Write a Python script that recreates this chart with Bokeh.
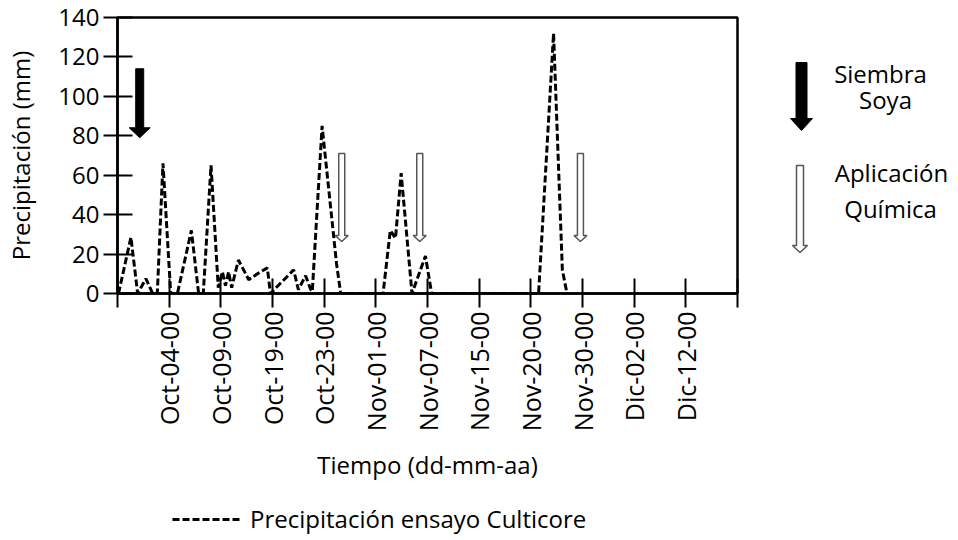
import math
from bokeh.plotting import figure
from bokeh.models import Range1d, FixedTicker, Legend, LegendItem
from bokeh.core.properties import value
from bokeh.layouts import row, column
from bokeh.embed import file_html
from bokeh.resources import INLINE

# ---------------- data ----------------
dias = [0.2, 2.6, 3.9, 5.5, 6.8, 7.7, 8.8, 10.3, 11.6, 14.3, 15.7, 16.6, 18.1, 19.5,
        20.3, 20.9, 21.5, 22.1, 23.4, 25.4, 27.1, 29.0, 29.6, 34.1, 35.0, 36.4, 37.4,
        37.7, 39.6, 42.4, 43.2, 51.4, 52.8, 53.8, 54.9, 57.0, 59.6, 60.8, 81.5, 84.4,
        86.1, 87.0]
precip = [0, 28.5, 0, 7.5, 0, 0, 66, 0, 0, 32, 0, 0, 65, 3,
          11, 4, 11, 3, 17, 7, 10, 13, 0, 12, 2, 9, 2,
          1, 85, 15, 0, 0, 32, 28, 61, 0, 19, 0, 0, 132,
          12, 0]

tick_pos = [0, 10, 20, 30, 40, 50, 60, 70, 80, 90, 100, 110, 120]
tick_labels = ["", "Oct-04-00", "Oct-09-00", "Oct-19-00", "Oct-23-00", "Nov-01-00",
               "Nov-07-00", "Nov-15-00", "Nov-20-00", "Nov-30-00", "Dic-02-00",
               "Dic-12-00", ""]
y_ticks = [0, 20, 40, 60, 80, 100, 120, 140]

siembra_x = [4.3]
siembra_top = [114]
siembra_tip = [79]

aplic_x = [43.4, 58.5, 89.6]
aplic_top = [71, 71, 71]
aplic_tip = [26.4, 26.4, 26.4]

serie_label = "Precipitación ensayo Culticore"
side_lines = ["Siembra", "Soya", "Aplicación", "Química"]

FONT = "Open Sans"
FS = "24px"

# ---------------- main figure ----------------
W_LEFT, W_RIGHT, W_TOP, W_BOTTOM = 117, 5, 17, 210
FRAME_W, FRAME_H = 620, 276
MAIN_W = W_LEFT + FRAME_W + W_RIGHT
MAIN_H = W_TOP + FRAME_H + W_BOTTOM
X0, X1, Y0, Y1 = 0, 120, 0, 140

p = figure(width=MAIN_W, height=MAIN_H,
           output_backend="svg", toolbar_location=None,
           x_range=Range1d(X0, X1), y_range=Range1d(Y0, Y1),
           min_border_left=W_LEFT, min_border_right=W_RIGHT,
           min_border_top=W_TOP, min_border_bottom=W_BOTTOM)
p.xgrid.visible = False
p.ygrid.visible = False
p.outline_line_color = "black"
p.outline_line_width = 2.5

px_x = FRAME_W / (X1 - X0)
px_y = FRAME_H / (Y1 - Y0)


def arrow_poly(xc, ytop, ytip, shaft_hw, head_hw, head_len):
    sx = shaft_hw / px_x
    hx = head_hw / px_x
    yh = ytip + head_len / px_y
    xs = [xc - sx, xc + sx, xc + sx, xc + hx, xc, xc - hx, xc - sx]
    ys = [ytop, ytop, yh, yh, ytip, yh, yh]
    return xs, ys


sx_list, sy_list = [], []
for xc, yt, ytip in zip(siembra_x, siembra_top, siembra_tip):
    xs, ys = arrow_poly(xc, yt, ytip, 4, 10.5, 10)
    sx_list.append(xs); sy_list.append(ys)
p.patches(sx_list, sy_list, fill_color="black", line_color="black", line_width=1)

ax_list, ay_list = [], []
for xc, yt, ytip in zip(aplic_x, aplic_top, aplic_tip):
    xs, ys = arrow_poly(xc, yt, ytip, 3, 6.5, 6)
    ax_list.append(xs); ay_list.append(ys)
p.patches(ax_list, ay_list, fill_color="white", line_color="#555555", line_width=1.5)

LINE_STYLE = dict(line_color="black", line_width=3, line_dash="7 3")
p.line(dias, precip, **LINE_STYLE)

# axes
p.xaxis.ticker = FixedTicker(ticks=tick_pos)
p.xaxis.major_label_overrides = {t: l for t, l in zip(tick_pos, tick_labels)}
p.xaxis.major_label_orientation = math.pi / 2
p.xaxis.axis_label = "Tiempo (dd-mm-aa)"
p.yaxis.ticker = FixedTicker(ticks=y_ticks)
p.yaxis.axis_label = "Precipitación (mm)"
for ax in (p.xaxis[0], p.yaxis[0]):
    ax.axis_line_color = "black"
    ax.axis_line_width = 2.5
    ax.major_tick_line_color = "black"
    ax.major_tick_line_width = 2
    ax.major_tick_in = 15
    ax.major_tick_out = 14
    ax.minor_tick_line_color = None
    ax.major_label_text_font = FONT
    ax.major_label_text_font_size = FS
    ax.major_label_text_color = "black"
    ax.axis_label_text_font = FONT
    ax.axis_label_text_font_size = FS
    ax.axis_label_text_font_style = "normal"
    ax.axis_label_text_color = "black"
    ax.major_label_standoff = 4
p.xaxis.major_label_text_font_size = "25px"
p.yaxis.axis_label_standoff = 18
p.xaxis.axis_label_standoff = 14

# ---------------- side legend (arrows) ----------------
# the side figure's frame is aligned with the main frame (page y 17..293)
SIDE_W = 210
side = figure(width=SIDE_W, height=MAIN_H, output_backend="svg",
              toolbar_location=None,
              x_range=Range1d(MAIN_W, MAIN_W + SIDE_W),
              y_range=Range1d(W_TOP + FRAME_H, W_TOP),
              min_border_left=0, min_border_right=0,
              min_border_top=W_TOP, min_border_bottom=W_BOTTOM,
              x_axis_location=None, y_axis_location=None)
side.xgrid.visible = False
side.ygrid.visible = False
side.outline_line_color = None


def arrow_px(xc, ytop, ytip, shaft_hw, head_hw, head_len):
    yh = ytip - head_len
    xs = [xc - shaft_hw, xc + shaft_hw, xc + shaft_hw, xc + head_hw, xc, xc - head_hw, xc - shaft_hw]
    ys = [ytop, ytop, yh, yh, ytip, yh, yh]
    return xs, ys


bx, by = arrow_px(801, 62, 130, 5.5, 11, 12)
side.patch(bx, by, fill_color="black", line_color="black", line_width=1)
hx, hy = arrow_px(799.5, 165, 252, 3.5, 7.5, 7)
side.patch(hx, hy, fill_color="white", line_color="#555555", line_width=1.5)

lx = [880, 885, 891, 890]
ly = [73, 99, 172, 208]
side.text(x=lx, y=ly, text=side_lines, text_align="center", text_baseline="alphabetic",
          text_font=value(FONT), text_font_size=value(FS), text_color="black")

# ---------------- bottom legend ----------------
LEG_H = 32
leg = figure(width=MAIN_W + SIDE_W, height=LEG_H, output_backend="svg",
             toolbar_location=None, x_range=Range1d(0, 1), y_range=Range1d(0, 1),
             min_border=0, x_axis_location=None, y_axis_location=None)
leg.xgrid.visible = False
leg.ygrid.visible = False
leg.outline_line_color = None
sample = leg.line([float("nan")], [float("nan")], **LINE_STYLE)
legend = Legend(items=[LegendItem(label=serie_label, renderers=[sample])],
                location=(172, 0), orientation="horizontal",
                border_line_color=None, background_fill_alpha=0,
                glyph_width=68, glyph_height=24, label_standoff=10,
                label_text_font=FONT, label_text_font_size=FS,
                label_text_color="black",
                padding=0, margin=0, spacing=0)
leg.add_layout(legend)

layout = column(row(p, side), leg)
open("out.html", "w").write(file_html(layout, INLINE))
